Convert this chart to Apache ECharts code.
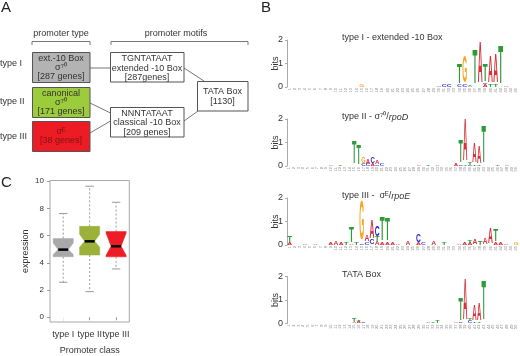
<!DOCTYPE html>
<html>
<head>
<meta charset="utf-8">
<script src="https://cdn.jsdelivr.net/npm/echarts@6/dist/echarts.min.js"></script>
<style>
  html, body { margin: 0; padding: 0; background: #fff; }
  #chart { width: 520px; height: 356px; }
</style>
</head>
<body>
<div id="chart"></div>
<script>
// ---- panel C: expression by promoter class (notched boxplot) ----
const boxClasses = ['type I', 'type II', 'type III'];
const whiskerLow = [2.57, 1.88, 3.55];
const q1 = [4.45, 4.57, 4.44];
const notchLow = [4.62, 5.15, 4.55];
const medians = [4.97, 5.58, 5.22];
const notchHigh = [5.45, 6.1, 6.18];
const q3 = [5.78, 6.68, 6.3];
const whiskerHigh = [7.62, 9.63, 8.45];
const outliers = [[0, 0.03]];
const boxColors = ['#a9a9a9', '#9bb139', '#ee1c25'];
const yTicks = [0, 2, 4, 6, 8, 10];

// ---- panel B: sequence logos, [position, letter, bits] stacked bottom -> top ----
const logo1 = [
  [15, 'G', 0.12], [30, 'A', 0.05], [31, 'C', 0.08], [32, 'C', 0.12],
  [34, 'C', 0.08], [34, 'T', 0.85], [35, 'C', 0.1], [35, 'G', 1.15],
  [36, 'A', 0.05], [36, 'T', 0.05], [37, 'T', 1.45], [38, 'A', 1.75],
  [39, 'A', 0.12], [39, 'C', 0.05], [39, 'T', 0.72], [40, 'T', 0.1], [40, 'A', 1.1],
  [41, 'T', 0.08], [41, 'A', 1.25], [42, 'T', 1.65], [43, 'A', 0.03],
];
const logo2 = [
  [10, 'A', 0.06], [12, 'T', 0.06], [15, 'T', 0.95], [16, 'T', 0.85],
  [17, 'C', 0.08], [17, 'G', 0.3], [18, 'C', 0.08], [18, 'A', 0.22],
  [19, 'A', 0.1], [19, 'C', 0.3], [20, 'C', 0.06], [20, 'A', 0.18], [21, 'C', 0.1],
  [29, 'A', 0.05], [31, 'T', 0.06], [33, 'A', 0.06], [37, 'A', 0.08],
  [38, 'C', 0.05], [38, 'T', 0.95], [39, 'T', 0.05], [39, 'A', 1.8],
  [40, 'C', 0.05], [40, 'T', 0.12], [41, 'T', 0.06], [41, 'A', 0.85],
  [42, 'T', 0.05], [42, 'A', 0.75], [43, 'T', 1.6], [46, 'T', 0.05], [48, 'A', 0.06],
];
const logo3 = [
  [1, 'A', 0.12], [1, 'T', 0.25], [4, 'A', 0.04], [6, 'A', 0.04],
  [9, 'A', 0.12], [10, 'A', 0.14], [11, 'A', 0.12], [12, 'T', 0.08],
  [13, 'A', 0.05], [13, 'T', 0.68], [14, 'T', 0.1], [15, 'C', 0.06], [15, 'G', 1.7],
  [16, 'C', 0.12], [16, 'A', 0.3], [17, 'C', 0.2], [17, 'A', 0.8],
  [18, 'A', 0.15], [18, 'T', 0.2], [18, 'C', 0.45], [19, 'A', 0.1], [19, 'T', 1.0],
  [20, 'A', 0.1], [20, 'T', 0.98], [21, 'A', 0.12], [22, 'A', 0.05],
  [24, 'A', 0.18], [26, 'A', 0.1], [26, 'C', 0.35], [27, 'C', 0.08], [29, 'A', 0.18],
  [31, 'T', 0.12], [34, 'A', 0.05], [35, 'A', 0.08], [36, 'A', 0.08], [36, 'T', 0.1],
  [37, 'A', 0.22], [38, 'T', 0.15], [39, 'A', 0.25], [40, 'A', 0.65],
  [41, 'A', 0.1], [41, 'T', 0.5], [42, 'A', 0.12], [43, 'A', 0.05], [45, 'G', 0.08],
];
const logo4 = [
  [15, 'A', 0.05], [15, 'T', 0.15], [16, 'A', 0.08], [16, 'T', 0.06], [17, 'C', 0.05],
  [31, 'A', 0.05], [32, 'T', 0.05], [33, 'T', 0.12], [37, 'A', 0.05],
  [38, 'C', 0.06], [38, 'T', 0.95], [39, 'A', 1.75], [40, 'C', 0.08], [40, 'T', 0.1],
  [41, 'T', 0.06], [41, 'A', 0.7], [42, 'T', 0.05], [42, 'A', 0.75], [43, 'T', 1.7],
];
const logoColumns = [45, 50, 45, 50];
const logoTitles = [
  '{n|type I - extended -10 Box}',
  '{n|type II - σ⁷⁰/}{i|rpoD}',
  '{n|type III -  σᴱ/}{i|rpoE}',
  '{n|TATA Box}',
];

const LETTER_COLOR = { A: '#d8303a', T: '#2e9a3a', G: '#f5a623', C: '#2b2bd0' };
const LETTER_ADV = { A: 0.722, T: 0.611, G: 0.778, C: 0.722 };
const FONT = '"Liberation Sans", Arial, sans-serif';
const TXT = '#333';

const chart = echarts.init(document.getElementById('chart'));

// layout of logo panels
const logoZero = [87, 166, 245, 323.5];
const logoH = 47;
const logoLeft = 287;
const logoSpacing = [5.15, 4.63, 5.15, 4.63];

function stackLogo(entries) {
  const base = {};
  return entries.map(([pos, letter, bits]) => {
    const b = base[pos] || 0;
    base[pos] = b + bits;
    return [pos - 1, b, b + bits, letter];
  });
}

const grids = [{ left: 50, top: 180.5, width: 79.3, height: 143,
  show: true, borderColor: '#a8a8a8', borderWidth: 1, backgroundColor: 'transparent' }];
const xAxes = [{
  type: 'category', gridIndex: 0, data: boxClasses,
  axisLine: { show: false },
  axisTick: { show: true, alignWithLabel: true, length: 3, lineStyle: { color: '#999' } },
  axisLabel: { interval: 0, color: TXT, fontSize: 9, fontFamily: FONT, margin: 8 },
  name: 'Promoter class', nameLocation: 'middle', nameGap: 24,
  nameTextStyle: { color: TXT, fontSize: 9, fontFamily: FONT },
}];
const yAxes = [{
  type: 'value', gridIndex: 0, min: -0.35, max: 10.05,
  axisLine: { show: false },
  splitLine: { show: false },
  axisTick: { show: true, length: 3, customValues: yTicks, lineStyle: { color: '#999' } },
  axisLabel: { customValues: yTicks, color: TXT, fontSize: 8, fontFamily: FONT, margin: 6 },
  name: 'expression', nameLocation: 'middle', nameGap: 20, nameMoveOverlap: false,
  nameTextStyle: { color: TXT, fontSize: 9, fontFamily: FONT },
}];

const series = [{
  type: 'custom', xAxisIndex: 0, yAxisIndex: 0,
  data: boxClasses.map((_, i) => [i, whiskerLow[i], q1[i], notchLow[i], medians[i], notchHigh[i], q3[i], whiskerHigh[i]]),
  encode: { x: 0, y: [1, 2, 3, 4, 5, 6, 7] },
  renderItem: (params, api) => {
    const i = api.value(0);
    const cx = api.coord([i, 0])[0];
    const hw = api.size([1, 0])[0] * 0.38;
    const y = k => api.coord([i, api.value(k)])[1];
    const [yWl, yQ1, yNl, yMed, yNh, yQ3, yWh] = [1, 2, 3, 4, 5, 6, 7].map(y);
    const grey = '#9a9a9a';
    return {
      type: 'group',
      children: [
        { type: 'line', shape: { x1: cx, y1: yQ3, x2: cx, y2: yWh }, style: { stroke: grey, lineWidth: 1, lineDash: [2, 2] } },
        { type: 'line', shape: { x1: cx, y1: yQ1, x2: cx, y2: yWl }, style: { stroke: grey, lineWidth: 1, lineDash: [2, 2] } },
        { type: 'line', shape: { x1: cx - hw * 0.42, y1: yWh, x2: cx + hw * 0.42, y2: yWh }, style: { stroke: grey, lineWidth: 1 } },
        { type: 'line', shape: { x1: cx - hw * 0.42, y1: yWl, x2: cx + hw * 0.42, y2: yWl }, style: { stroke: grey, lineWidth: 1 } },
        { type: 'polygon', shape: { points: [
            [cx - hw, yQ3], [cx - hw, yNh], [cx - hw / 2, yMed], [cx - hw, yNl], [cx - hw, yQ1],
            [cx + hw, yQ1], [cx + hw, yNl], [cx + hw / 2, yMed], [cx + hw, yNh], [cx + hw, yQ3]] },
          style: { fill: boxColors[i], stroke: boxColors[i], lineWidth: 0.5 } },
        { type: 'line', shape: { x1: cx - hw / 2, y1: yMed, x2: cx + hw / 2, y2: yMed }, style: { stroke: '#000', lineWidth: 2.5 } },
      ],
    };
  },
}, {
  type: 'scatter', xAxisIndex: 0, yAxisIndex: 0, data: outliers,
  symbol: 'emptyCircle', symbolSize: 4.5,
  itemStyle: { color: '#fff', borderColor: '#666', borderWidth: 0.8 },
}];

[logo1, logo2, logo3, logo4].forEach((entries, k) => {
  const g = k + 1;
  const cols = logoColumns[k];
  grids.push({ left: logoLeft, top: logoZero[k] - logoH, width: cols * logoSpacing[k], height: logoH });
  xAxes.push({
    type: 'category', gridIndex: g,
    data: Array.from({ length: cols }, (_, j) => String(j + 1)),
    axisLine: { show: false }, axisTick: { show: false },
    axisLabel: { interval: 0, rotate: 90, fontSize: 4, color: '#888', margin: 1, fontFamily: FONT },
  });
  yAxes.push({
    type: 'value', gridIndex: g, min: 0, max: 2, interval: 1,
    axisLine: { show: true, lineStyle: { color: '#aaa' } },
    axisTick: { show: true, length: 2, lineStyle: { color: '#aaa' } },
    splitLine: { show: false },
    axisLabel: { color: TXT, fontSize: 9, fontFamily: FONT, margin: 4 },
    name: 'bits', nameLocation: 'middle', nameGap: 7, nameMoveOverlap: false,
    nameTextStyle: { color: TXT, fontSize: 9, fontFamily: FONT },
  });
  const stacked = stackLogo(entries);
  series.push({
    type: 'custom', xAxisIndex: g, yAxisIndex: g,
    data: stacked.map(s => [s[0], s[1], s[2]]),
    encode: { x: 0, y: [1, 2] },
    renderItem: (params, api) => {
      const s = stacked[params.dataIndex];
      const p0 = api.coord([s[0], s[1]]);
      const p1 = api.coord([s[0], s[2]]);
      const colW = api.size([1, 0])[0];
      const h = p0[1] - p1[1];
      if (h < 0.4) return null;
      const fs = 20;
      const letter = s[3];
      return {
        type: 'text', x: p0[0], y: (p0[1] + p1[1]) / 2,
        scaleX: colW * 0.95 / (LETTER_ADV[letter] * fs),
        scaleY: h / (0.716 * fs),
        style: {
          text: letter, font: 'bold ' + fs + 'px ' + FONT, fill: LETTER_COLOR[letter],
          align: 'center', verticalAlign: 'middle', textAlign: 'center', textVerticalAlign: 'middle',
        },
      };
    },
  });
});

// ---- panel A diagram and panel labels ----
const lineStyle = { stroke: '#777', lineWidth: 1 };
const boxStroke = { stroke: '#555', lineWidth: 1 };
const txt = (text, x, y, extra) => ({
  type: 'text', x, y,
  style: Object.assign({ text, font: '9px ' + FONT, fill: TXT, align: 'center', verticalAlign: 'middle', lineHeight: 9 }, extra || {}),
});
const graphics = [
  txt('A', 1, 8, { font: '15px ' + FONT, align: 'left', fill: '#222' }),
  txt('B', 261, 8, { font: '15px ' + FONT, align: 'left', fill: '#222' }),
  txt('C', 1, 183, { font: '15px ' + FONT, align: 'left', fill: '#222' }),
  txt('promoter type', 61, 34),
  txt('promoter motifs', 176, 34),
  { type: 'polyline', shape: { points: [[32, 45], [32, 41.5], [90, 41.5], [90, 45]] }, style: lineStyle },
  { type: 'polyline', shape: { points: [[111, 45], [111, 41.5], [248, 41.5], [248, 45]] }, style: lineStyle },
  txt('type I', 0, 64, { align: 'left' }),
  txt('type II', 0, 102, { align: 'left' }),
  txt('type III', 0, 137, { align: 'left' }),
  { type: 'line', shape: { x1: 90, y1: 68, x2: 110.5, y2: 68 }, style: lineStyle },
  { type: 'line', shape: { x1: 90, y1: 103, x2: 110.5, y2: 113 }, style: lineStyle },
  { type: 'line', shape: { x1: 90, y1: 133, x2: 110.5, y2: 121 }, style: lineStyle },
  { type: 'line', shape: { x1: 184, y1: 68, x2: 204, y2: 81 }, style: lineStyle },
  { type: 'line', shape: { x1: 184, y1: 121, x2: 198, y2: 111 }, style: lineStyle },
  { type: 'rect', shape: { x: 32.5, y: 52.5, width: 57.5, height: 30 }, style: Object.assign({ fill: '#b3b3b3' }, boxStroke) },
  { type: 'rect', shape: { x: 32.5, y: 87.5, width: 57.5, height: 30 }, style: Object.assign({ fill: '#9ccb3b' }, boxStroke) },
  { type: 'rect', shape: { x: 32.5, y: 121.5, width: 57.5, height: 30 }, style: Object.assign({ fill: '#ed1c24' }, boxStroke) },
  { type: 'rect', shape: { x: 110.5, y: 52.5, width: 73.5, height: 29.5 }, style: Object.assign({ fill: '#fff' }, boxStroke) },
  { type: 'rect', shape: { x: 110.5, y: 107.5, width: 73.5, height: 29.5 }, style: Object.assign({ fill: '#fff' }, boxStroke) },
  { type: 'rect', shape: { x: 197.5, y: 81.5, width: 50.5, height: 29.5 }, style: Object.assign({ fill: '#fff' }, boxStroke) },
  txt('ext.-10 Box\nσ⁷⁰\n[287 genes]', 61, 68),
  txt('canonical\nσ⁷⁰\n[171 genes]', 61, 102.5),
  txt('σᴱ\n[38 genes]', 61, 136.5, { fill: '#7d1416' }),
  txt('TGNTATAAT\nextended -10 Box\n[287genes]', 147, 68.5, { lineHeight: 9.5 }),
  txt('NNNTATAAT\nclassical -10 Box\n[209 genes]', 147, 123, { lineHeight: 9.5 }),
  txt('TATA Box\n[1130]', 222.5, 96.5, { lineHeight: 10 }),
];
logoTitles.forEach((t, k) => {
  graphics.push({
    type: 'text', x: 342, y: logoZero[k] - logoH - 2,
    style: {
      text: t, align: 'left', verticalAlign: 'middle',
      rich: {
        n: { font: '9px ' + FONT, fill: TXT },
        i: { font: 'italic 9px ' + FONT, fill: TXT },
      },
    },
  });
});

chart.setOption({
  animation: false,
  backgroundColor: '#fff',
  grid: grids,
  xAxis: xAxes,
  yAxis: yAxes,
  series,
  graphic: { elements: graphics },
});
</script>
</body>
</html>
